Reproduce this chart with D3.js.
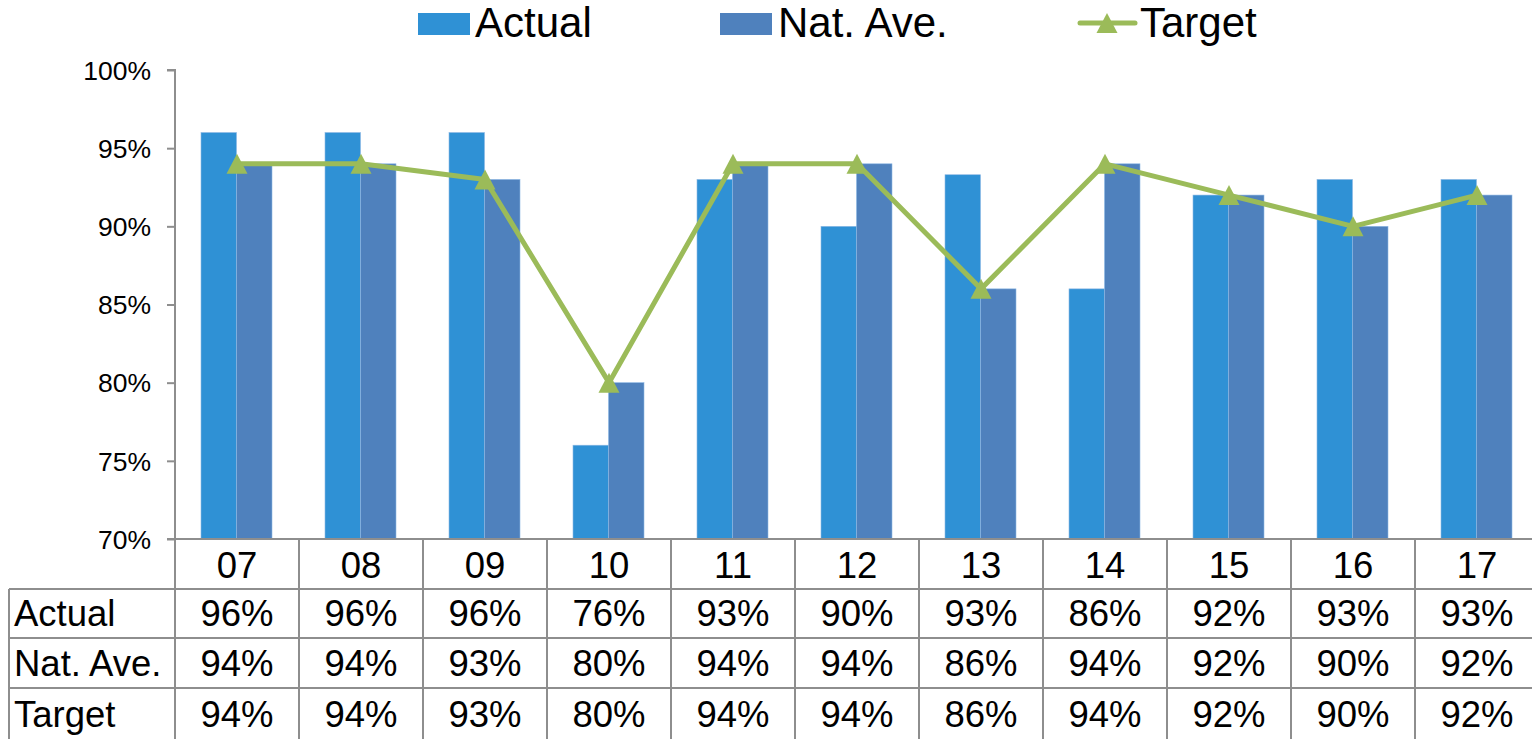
<!DOCTYPE html>
<html><head><meta charset="utf-8">
<script src="https://cdn.jsdelivr.net/npm/d3@7"></script>
<style>body{margin:0;background:#fff;overflow:hidden}text{font-family:"Liberation Sans",Arial,sans-serif;fill:#000}</style>
</head><body><svg id="c" width="1532" height="739"></svg>
<script>
const categories = ["07","08","09","10","11","12","13","14","15","16","17"];
const actual = [96,96,96,76,93,90,93.3,86,92,93,93];
const natAve = [94,94,93,80,94,94,86,94,92,90,92];
const target = [94,94,93,80,94,94,86,94,92,90,92];
const yTicks = [70,75,80,85,90,95,100];
const seriesNames = ["Actual","Nat. Ave.","Target"];

const colActual = "#2F91D5", colNat = "#4F81BD", colTarget = "#9BBB59", gridCol = "#8E8E8E";
const svg = d3.select("#c");
const pLeft = 175, pRight = 1539, pTop = 70, pBottom = 539;
const rowH = [589, 638, 688, 739];

const x = d3.scaleBand().domain(categories).range([pLeft, pRight]);
const x1 = d3.scaleBand().domain(["Actual","Nat. Ave."]).range([26, 97]);
const y = d3.scaleLinear().domain([70,100]).range([pBottom, pTop]);

// y axis
const yAxis = d3.axisLeft(y).tickValues(yTicks).tickSize(8).tickFormat(d => d + "%");
const ga = svg.append("g").attr("transform", `translate(${pLeft},0)`).call(yAxis);
ga.select(".domain").attr("stroke", gridCol).attr("stroke-width", 2).attr("d", `M-8,${pTop}H0V${pBottom}`);
ga.selectAll(".tick line").attr("stroke", gridCol).attr("stroke-width", 2);
ga.selectAll(".tick text").attr("x", -24).attr("dy", "0.35em").style("font-size", "26.5px").style("font-family", '"Liberation Sans",Arial,sans-serif').attr("fill", "#000");

// bars
const data = categories.map((c, i) => ({c, "Actual": actual[i], "Nat. Ave.": natAve[i]}));
const g = svg.append("g");
data.forEach(d => {
  [["Actual", colActual], ["Nat. Ave.", colNat]].forEach(([k, col]) => {
    g.append("rect").attr("x", x(d.c) + x1(k)).attr("width", x1.bandwidth())
      .attr("y", y(d[k])).attr("height", y(70) - y(d[k]))
      .attr("fill", col).attr("stroke", "#8DB8E4").attr("stroke-width", 0.6);
  });
});

// target line
const cx = c => x(c) + x.bandwidth() / 2;
svg.append("path").datum(target).attr("fill", "none").attr("stroke", colTarget).attr("stroke-width", 5)
  .attr("stroke-linejoin", "round")
  .attr("d", d3.line().x((d, i) => cx(categories[i])).y(d => y(d)));
const triType = { draw(ctx, size) { const w = 10.5, h = 10; ctx.moveTo(0, -h); ctx.lineTo(w, h); ctx.lineTo(-w, h); ctx.closePath(); } };
const tri = d3.symbol().type(triType);
svg.selectAll(".tri").data(target).enter().append("path").attr("d", tri)
  .attr("transform", (d, i) => `translate(${cx(categories[i])},${y(d)})`).attr("fill", colTarget);

// table grid
const tg = svg.append("g").attr("stroke", gridCol).attr("stroke-width", 2);
tg.append("line").attr("x1", pLeft - 8).attr("x2", pRight).attr("y1", pBottom).attr("y2", pBottom);
rowH.slice(0, 3).forEach(h => tg.append("line").attr("x1", 9).attr("x2", pRight).attr("y1", h).attr("y2", h));
tg.append("line").attr("x1", 9).attr("x2", 9).attr("y1", rowH[0]).attr("y2", 739);
categories.forEach(c => tg.append("line").attr("x1", x(c)).attr("x2", x(c)).attr("y1", pBottom).attr("y2", 739));
tg.append("line").attr("x1", pRight).attr("x2", pRight).attr("y1", pBottom).attr("y2", 739);

// category labels
svg.selectAll(".cat").data(categories).enter().append("text").attr("x", d => cx(d)).attr("y", 578)
  .attr("text-anchor", "middle").style("font-size", "36.5px").text(d => d);

// table rows
const rows = [actual, natAve, target];
const fmt = v => Math.round(v) + "%";
rows.forEach((r, ri) => {
  const base = [626, 676, 727][ri];
  svg.append("text").attr("x", 14).attr("y", base).style("font-size", "36.5px").text(seriesNames[ri]);
  r.forEach((v, i) => svg.append("text").attr("x", cx(categories[i])).attr("y", base)
    .attr("text-anchor", "middle").style("font-size", "36.5px").text(fmt(v)));
});

// legend
const lg = svg.append("g");
const ly = 37;
lg.append("rect").attr("x", 418).attr("y", 13).attr("width", 52).attr("height", 22).attr("fill", colActual);
lg.append("text").attr("x", 475).attr("y", ly).style("font-size", "42px").text("Actual");
lg.append("rect").attr("x", 720).attr("y", 13).attr("width", 52).attr("height", 22).attr("fill", colNat);
lg.append("text").attr("x", 778).attr("y", ly).style("font-size", "42px").text("Nat. Ave.");
lg.append("line").attr("x1", 1080).attr("x2", 1135).attr("y1", 23).attr("y2", 23).attr("stroke", colTarget).attr("stroke-width", 5).attr("stroke-linecap", "round");
lg.append("path").attr("d", tri).attr("transform", "translate(1107,23)").attr("fill", colTarget);
lg.append("text").attr("x", 1140).attr("y", ly).style("font-size", "42px").text("Target");
</script></body></html>
